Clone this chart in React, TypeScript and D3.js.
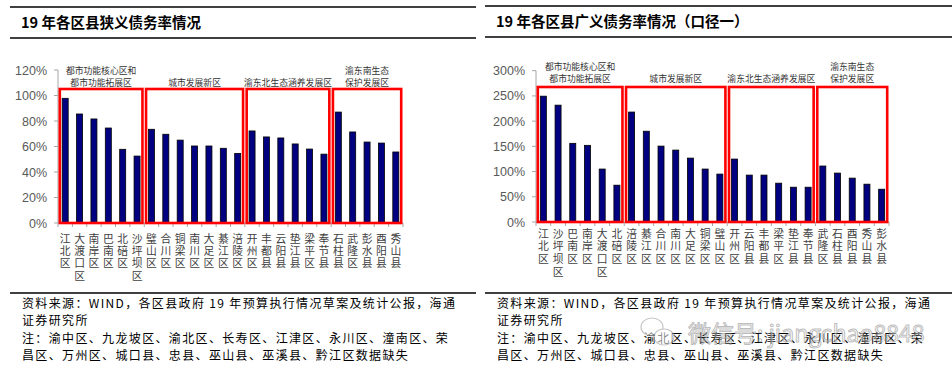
import React from "react";
import * as d3 from "d3";

// ---------- data ----------
const leftTitle = "19 年各区县狭义债务率情况";
const leftCategories = ["江北区", "大渡口区", "南岸区", "巴南区", "北碚区", "沙坪坝区", "璧山区", "合川区", "铜梁区", "南川区", "大足区", "綦江区", "涪陵区", "开州区", "丰都县", "云阳县", "垫江县", "梁平区", "奉节县", "石柱县", "武隆区", "彭水县", "酉阳县", "秀山县"];
const leftValues = [97.8, 85.5, 81.6, 74.5, 57.8, 52.5, 73.5, 69.6, 65.0, 60.4, 60.4, 58.6, 54.6, 72.2, 67.5, 66.7, 62.0, 58.0, 54.0, 87.0, 71.4, 63.5, 62.7, 55.7];
const leftTicks = [0, 20, 40, 60, 80, 100, 120];

const rightTitle = "19 年各区县广义债务率情况（口径一）";
const rightCategories = ["江北区", "沙坪坝区", "巴南区", "南岸区", "大渡口区", "北碚区", "涪陵区", "綦江区", "合川区", "南川区", "大足区", "铜梁区", "璧山区", "开州区", "云阳县", "丰都县", "梁平区", "垫江县", "奉节县", "武隆区", "石柱县", "酉阳县", "秀山县", "彭水县"];
const rightValues = [249.5, 231.7, 156, 152, 105, 73, 218, 180, 150.5, 142.6, 126.7, 105, 95, 124.8, 93, 93, 77, 69, 69, 111, 97, 87, 75, 65];
const rightTicks = [0, 50, 100, 150, 200, 250, 300];

const groupLabels = [["都市功能核心区和", "都市功能拓展区"], ["城市发展新区"], ["渝东北生态涵养发展区"], ["渝东南生态", "保护发展区"]];
const groupSizes = [6, 7, 6, 5];

const footerLines = [
  "资料来源：WIND，各区县政府 19 年预算执行情况草案及统计公报，海通",
  "证券研究所",
  "注：渝中区、九龙坡区、渝北区、长寿区、江津区、永川区、潼南区、荣",
  "昌区、万州区、城口县、忠县、巫山县、巫溪县、黔江区数据缺失",
];

const CJK = "'Noto Sans CJK SC', 'Noto Sans', sans-serif";
const LATIN = "'Liberation Sans', Arial, 'Noto Sans CJK SC', sans-serif";

type PanelProps = {
  ox: number;
  title: string;
  cats: string[];
  vals: number[];
  ticks: number[];
  x0: number;
  x1: number;
  y0: number;
  yTop: number;
  boxTop: number;
  labelTop: number;
  labelStep: number;
  lineLeft: number;
  lineTop: number;
  groupLabelY: number;
};

function Panel(p: PanelProps) {
  const x = d3.scaleBand<string>().domain(p.cats).range([p.x0, p.x1]).padding(0);
  const maxT = p.ticks[p.ticks.length - 1];
  const y = d3.scaleLinear().domain([0, maxT]).range([p.y0, p.yTop]);
  const step = x.step();
  const barW = 6;

  const boxes: { gx0: number; gx1: number; cx: number; label: string[] }[] = [];
  let s = 0;
  groupSizes.forEach((n, i) => {
    const a = x(p.cats[s])!;
    const b = x(p.cats[s + n - 1])! + step;
    boxes.push({ gx0: a + 1.8, gx1: b - 1.8, cx: (a + b) / 2, label: groupLabels[i] });
    s += n;
  });

  return (
    <g>
      <line x1={p.lineLeft} x2={p.ox + 476} y1={p.lineTop} y2={p.lineTop} stroke="#000" strokeWidth={1.6} />
      <line x1={p.lineLeft} x2={p.ox + 476} y1={p.lineTop + 31} y2={p.lineTop + 31} stroke="#000" strokeWidth={1.6} />
      <text x={p.ox + (p.ox === 0 ? 21 : 20)} y={p.lineTop + 21} fontFamily={CJK} fontSize={14.5} fontWeight="bold" fill="#000">
        {p.title}
      </text>

      <line x1={p.x0} x2={p.x0} y1={p.yTop} y2={p.y0} stroke="#a6a6a6" strokeWidth={1} />
      <line x1={p.x0} x2={p.x1} y1={p.y0} y2={p.y0} stroke="#a6a6a6" strokeWidth={1} />
      {p.ticks.map((t) => (
        <g key={t}>
          <line x1={p.x0 - 4} x2={p.x0} y1={y(t)} y2={y(t)} stroke="#a6a6a6" />
          <text x={p.x0 - 11} y={y(t) + 4.5} textAnchor="end" fontFamily={LATIN} fontSize={12.5} fill="#595959">
            {t}%
          </text>
        </g>
      ))}
      {p.cats.map((c, i) => (
        <line key={"t" + i} x1={x(c)! + step} x2={x(c)! + step} y1={p.y0} y2={p.y0 + 4} stroke="#a6a6a6" />
      ))}
      <line x1={p.x0} x2={p.x0} y1={p.y0} y2={p.y0 + 4} stroke="#a6a6a6" />

      {p.cats.map((c, i) => (
        <rect
          key={c}
          x={x(c)! + step / 2 - barW / 2}
          y={y(p.vals[i])}
          width={barW}
          height={p.y0 - y(p.vals[i])}
          fill="#000080"
          stroke="#000"
          strokeWidth={0.8}
        />
      ))}

      {boxes.map((b, i) => (
        <g key={"b" + i}>
          <rect x={b.gx0} y={p.boxTop} width={b.gx1 - b.gx0} height={p.y0 - p.boxTop} fill="none" stroke="#ff0000" strokeWidth={2.6} />
          {b.label.map((l, j) => (
            <text
              key={j}
              x={b.cx}
              y={p.groupLabelY - (b.label.length - 1 - j) * 11.4}
              textAnchor="middle"
              fontFamily={CJK}
              fontSize={8.8}
              fill="#333"
            >
              {l}
            </text>
          ))}
        </g>
      ))}

      {p.cats.map((c) =>
        Array.from(c).map((ch, k) => (
          <text
            key={"l" + c + k}
            x={x(c)! + step / 2}
            y={p.labelTop + k * p.labelStep}
            fontFamily={CJK}
            fontSize={10.8}
            fill="#404040"
            textAnchor="middle"
          >
            {ch}
          </text>
        ))
      )}

      <line x1={p.lineLeft} x2={p.ox + 476} y1={293} y2={293} stroke="#000" strokeWidth={1.6} />
      {footerLines.map((l, i) => (
        <text key={"f" + i} x={p.ox + (p.ox === 0 ? 22 : 21)} y={307.5 + i * 17.6} fontFamily={CJK} fontSize={12} letterSpacing={1.35} fill="#000">
          {l}
        </text>
      ))}
    </g>
  );
}

export default function App() {
  return (
    <svg width={952} height={376} style={{ position: "absolute", left: 0, top: 0, background: "#fff" }}>
      <rect width={952} height={376} fill="#fff" />
      <Panel
        ox={0}
        title={leftTitle}
        cats={leftCategories}
        vals={leftValues}
        ticks={leftTicks}
        x0={58}
        x1={403}
        y0={223}
        yTop={70}
        boxTop={89}
        labelTop={242.5}
        labelStep={12.4}
        lineLeft={10}
        lineTop={7}
        groupLabelY={85.5}
      />
      <Panel
        ox={476}
        title={rightTitle}
        cats={rightCategories}
        vals={rightValues}
        ticks={rightTicks}
        x0={536}
        x1={889}
        y0={222}
        yTop={70.7}
        boxTop={87}
        labelTop={237.5}
        labelStep={12.8}
        lineLeft={485}
        lineTop={6}
        groupLabelY={81.5}
      />
      <g opacity={0.55}>
        <ellipse cx={652} cy={327} rx={11} ry={9} fill="#fff" stroke="#999" strokeWidth={1.2} />
        <ellipse cx={664} cy={337} rx={10} ry={8} fill="#fff" stroke="#999" strokeWidth={1.2} />
        <text x={688} y={342} fontFamily={CJK} fontSize={23} fill="#fff" stroke="#888" strokeWidth={1}>
          微信号: jiangchao8848
        </text>
      </g>
    </svg>
  );
}
